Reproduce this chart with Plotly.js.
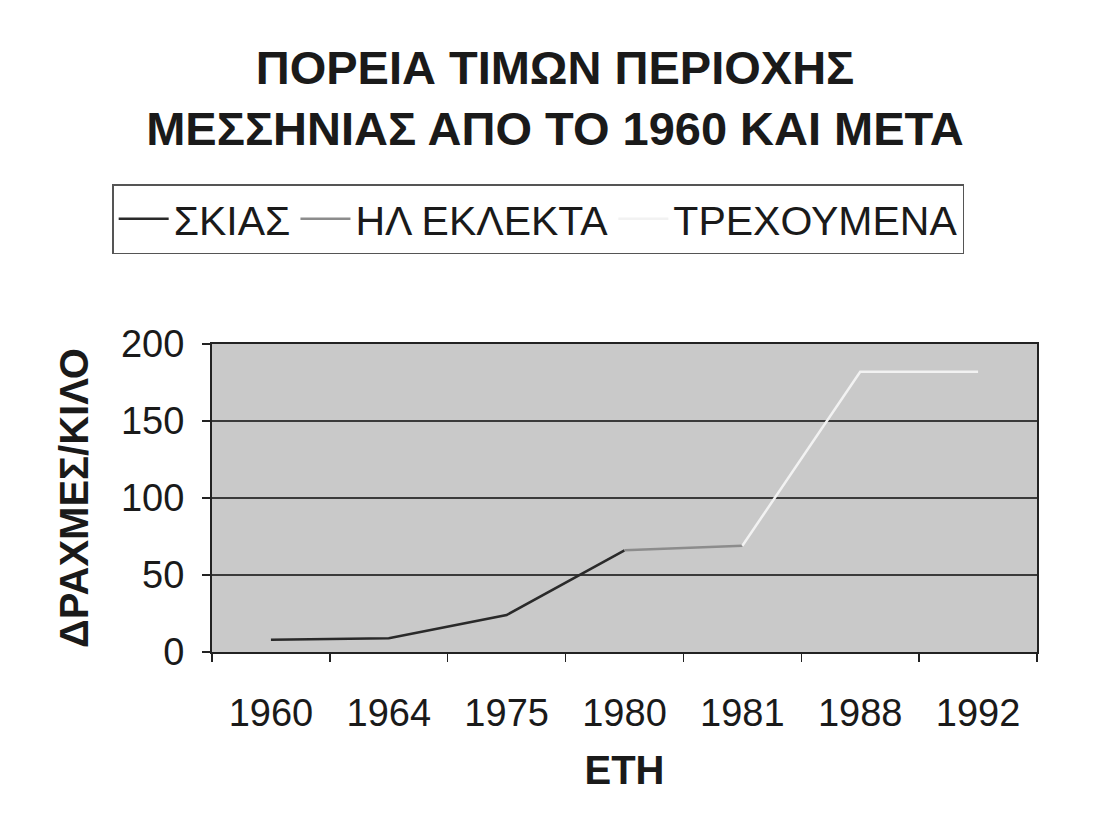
<!DOCTYPE html>
<html>
<head>
<meta charset="utf-8">
<script src="https://cdn.plot.ly/plotly-3.0.1.min.js"></script>
<style>
html,body{margin:0;padding:0;background:#fff;}
#chart{width:1099px;height:833px;}
</style>
</head>
<body>
<div id="chart"></div>
<script>
const years = ['1960', '1964', '1975', '1980', '1981', '1988', '1992'];
const skias = [8, 9, 24, 66, null, null, null];
const hlEklekta = [null, null, null, 66, 69, null, null];
const trexoumena = [null, null, null, null, 69, 182, 182];
const yTicks = [0, 50, 100, 150, 200];

const FONT = 'Liberation Sans, Arial, sans-serif';

const traces = [
  {x: years, y: skias, name: 'ΣΚΙΑΣ', type: 'scatter', mode: 'lines',
   line: {color: '#2a2a2a', width: 2.5}},
  {x: years, y: hlEklekta, name: 'ΗΛ ΕΚΛΕΚΤΑ', type: 'scatter', mode: 'lines',
   line: {color: '#8c8c8c', width: 2.5}},
  {x: years, y: trexoumena, name: 'ΤΡΕΧΟΥΜΕΝΑ', type: 'scatter', mode: 'lines',
   line: {color: '#f2f2f2', width: 2.5}}
];

const layout = {
  width: 1099, height: 833,
  paper_bgcolor: '#ffffff',
  plot_bgcolor: '#c9c9c9',
  margin: {l: 212, r: 62, t: 344, b: 181},
  font: {family: FONT, color: '#1a1a1a'},
  showlegend: true,
  title: {
    text: 'ΠΟΡΕΙΑ ΤΙΜΩΝ ΠΕΡΙΟΧΗΣ<br>ΜΕΣΣΗΝΙΑΣ ΑΠΟ ΤΟ 1960 ΚΑΙ ΜΕΤΑ',
    font: {family: FONT, size: 47, color: '#1a1a1a', weight: 'bold'},
    x: 0.505, xref: 'container', xanchor: 'center',
    y: 1 - 84 / 833, yref: 'container', yanchor: 'middle'
  },
  legend: {
    orientation: 'h',
    x: -0.121, xanchor: 'left',
    y: 1.519, yanchor: 'top',
    bgcolor: '#ffffff',
    bordercolor: '#555555', borderwidth: 1.5,
    font: {family: FONT, size: 41, color: '#1a1a1a'},
    itemwidth: 50,
    traceorder: 'normal'
  },
  xaxis: {
    type: 'category',
    range: [-0.5, 6.5],
    showgrid: false,
    zeroline: false,
    showline: true, linecolor: '#222', linewidth: 2, mirror: true,
    ticks: 'outside', tickson: 'boundaries', ticklen: 8, tickcolor: '#222', tickwidth: 1.5,
    ticklabelstandoff: 26,
    tickfont: {family: FONT, size: 38, color: '#1a1a1a'},
    title: {text: 'ΕΤΗ', font: {family: FONT, size: 40, color: '#1a1a1a', weight: 'bold'}, standoff: 23},
    fixedrange: true
  },
  yaxis: {
    range: [0, 200],
    tickvals: yTicks,
    ticktext: yTicks.map(String),
    showgrid: true, gridcolor: '#3a3a3a', gridwidth: 1.5,
    zeroline: false,
    showline: true, linecolor: '#222', linewidth: 2, mirror: true,
    ticks: 'outside', ticklen: 8, tickcolor: '#222', tickwidth: 1.5,
    ticklabelstandoff: 10,
    tickfont: {family: FONT, size: 38, color: '#1a1a1a'},
    title: {text: 'ΔΡΑΧΜΕΣ/ΚΙΛΟ', font: {family: FONT, size: 40, color: '#1a1a1a', weight: 'bold'}, standoff: 20},
    fixedrange: true
  }
};

Plotly.newPlot('chart', traces, layout, {displayModeBar: false, staticPlot: true});
</script>
</body>
</html>
